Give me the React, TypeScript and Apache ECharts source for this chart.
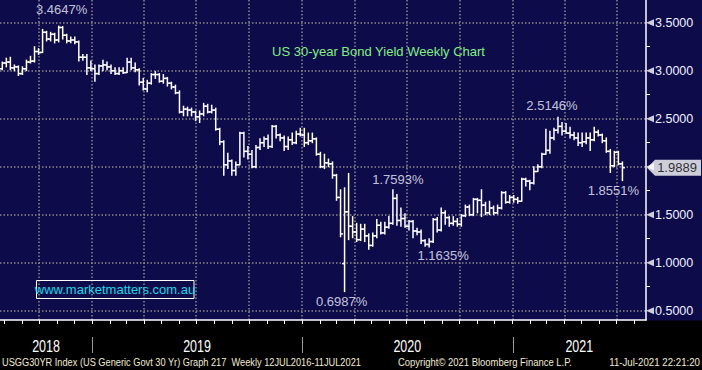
import React, { useEffect, useRef } from 'react';
import * as echarts from 'echarts';

// ---------- data (weekly bars, week ending Sunday) ----------
const FIRST_WEEK_END = '2018-07-29';
const OPEN = [
  3.02, 3.08, 3.09, 3.03, 3.04, 2.97, 3.02, 3.09, 3.10, 3.20,
  3.19, 3.40, 3.33, 3.38, 3.32, 3.45, 3.37, 3.31, 3.32, 3.30,
  3.14, 3.14, 3.03, 3.02, 2.97, 3.05, 3.06, 3.04, 3.00, 2.97,
  3.00, 2.98, 3.09, 3.03, 3.01, 2.88, 2.81, 2.87, 2.96, 2.96,
  2.89, 2.92, 2.87, 2.83, 2.77, 2.57, 2.60, 2.59, 2.57, 2.52,
  2.55, 2.63, 2.57, 2.59, 2.39, 2.26, 2.02, 2.06, 1.96, 2.02,
  2.35, 2.16, 2.13, 2.00, 2.20, 2.25, 2.29, 2.21, 2.42, 2.33,
  2.30, 2.21, 2.28, 2.25, 2.34, 2.33, 2.25, 2.27, 2.29, 2.13,
  2.00, 2.04, 2.03, 1.91, 1.68, 0.99, 1.53, 1.38, 1.32, 1.24,
  1.35, 1.28, 1.18, 1.28, 1.39, 1.31, 1.37, 1.41, 1.67, 1.44,
  1.46, 1.38, 1.43, 1.33, 1.32, 1.23, 1.19, 1.22, 1.45, 1.34,
  1.52, 1.47, 1.41, 1.43, 1.40, 1.49, 1.58, 1.50, 1.66, 1.65,
  1.60, 1.52, 1.57, 1.52, 1.57, 1.73, 1.63, 1.68, 1.66, 1.64,
  1.87, 1.85, 1.83, 1.95, 2.00, 2.13, 2.17, 2.30, 2.38, 2.42,
  2.37, 2.35, 2.33, 2.30, 2.25, 2.26, 2.30, 2.28, 2.36, 2.33,
  2.27, 2.16, 2.01, 2.15, 2.03,
];
const HIGH = [
  3.09, 3.13, 3.14, 3.06, 3.05, 3.04, 3.11, 3.15, 3.25, 3.23,
  3.43, 3.41, 3.40, 3.39, 3.4647, 3.46, 3.38, 3.35, 3.35, 3.31,
  3.17, 3.17, 3.10, 3.06, 3.06, 3.11, 3.09, 3.06, 3.03, 3.03,
  3.03, 3.13, 3.13, 3.08, 3.02, 2.92, 2.90, 2.97, 2.99, 2.97,
  2.96, 2.93, 2.88, 2.85, 2.79, 2.63, 2.62, 2.61, 2.58, 2.58,
  2.66, 2.65, 2.64, 2.61, 2.40, 2.27, 2.14, 2.07, 2.05, 2.36,
  2.36, 2.21, 2.17, 2.22, 2.29, 2.31, 2.33, 2.43, 2.43, 2.34,
  2.32, 2.31, 2.35, 2.37, 2.40, 2.40, 2.35, 2.35, 2.30, 2.15,
  2.13, 2.08, 2.05, 1.92, 1.76, 1.78, 1.93, 1.48, 1.41, 1.40,
  1.40, 1.30, 1.31, 1.45, 1.42, 1.42, 1.48, 1.7593, 1.71, 1.57,
  1.51, 1.44, 1.44, 1.36, 1.34, 1.24, 1.25, 1.46, 1.47, 1.57,
  1.54, 1.48, 1.48, 1.46, 1.50, 1.60, 1.60, 1.67, 1.67, 1.76,
  1.63, 1.64, 1.59, 1.60, 1.74, 1.74, 1.70, 1.70, 1.68, 1.88,
  1.88, 1.86, 2.00, 2.02, 2.14, 2.39, 2.37, 2.40, 2.5146, 2.46,
  2.45, 2.41, 2.36, 2.35, 2.35, 2.35, 2.35, 2.41, 2.38, 2.34,
  2.30, 2.18, 2.16, 2.16, 2.05,
];
const LOW = [
  3.01, 3.04, 3.01, 3.00, 2.95, 2.96, 3.00, 3.08, 3.09, 3.17,
  3.19, 3.31, 3.31, 3.29, 3.30, 3.33, 3.29, 3.29, 3.28, 3.10,
  3.11, 2.96, 3.00, 2.89, 2.96, 3.00, 3.01, 2.97, 2.96, 2.96,
  2.97, 2.98, 3.01, 2.99, 2.85, 2.80, 2.78, 2.86, 2.92, 2.88,
  2.87, 2.84, 2.81, 2.76, 2.56, 2.53, 2.53, 2.53, 2.48, 2.46,
  2.53, 2.56, 2.56, 2.38, 2.23, 1.91, 1.98, 1.91, 1.91, 2.02,
  2.10, 2.08, 1.99, 1.99, 2.18, 2.21, 2.19, 2.20, 2.30, 2.27,
  2.17, 2.18, 2.23, 2.24, 2.32, 2.21, 2.23, 2.25, 2.12, 1.99,
  1.98, 2.00, 1.88, 1.65, 1.27, 0.6987, 1.24, 1.26, 1.22, 1.23,
  1.22, 1.14, 1.17, 1.26, 1.30, 1.30, 1.36, 1.40, 1.39, 1.38,
  1.37, 1.34, 1.26, 1.29, 1.20, 1.17, 1.1635, 1.21, 1.32, 1.33,
  1.40, 1.38, 1.39, 1.38, 1.38, 1.48, 1.49, 1.49, 1.52, 1.48,
  1.50, 1.50, 1.50, 1.51, 1.56, 1.62, 1.62, 1.63, 1.62, 1.64,
  1.80, 1.76, 1.82, 1.95, 1.99, 2.13, 2.14, 2.28, 2.35, 2.33,
  2.35, 2.30, 2.28, 2.22, 2.21, 2.24, 2.17, 2.27, 2.32, 2.25,
  2.15, 1.94, 2.00, 2.02, 1.8551,
];
const CLOSE = [
  3.08, 3.09, 3.03, 3.04, 2.97, 3.02, 3.09, 3.10, 3.20, 3.19,
  3.40, 3.33, 3.38, 3.32, 3.45, 3.37, 3.31, 3.32, 3.30, 3.14,
  3.14, 3.03, 3.02, 2.97, 3.05, 3.06, 3.04, 3.00, 2.97, 3.00,
  2.98, 3.09, 3.03, 3.01, 2.88, 2.81, 2.87, 2.96, 2.96, 2.89,
  2.92, 2.87, 2.83, 2.77, 2.57, 2.60, 2.59, 2.57, 2.52, 2.55,
  2.63, 2.57, 2.59, 2.39, 2.26, 2.02, 2.06, 1.96, 2.02, 2.35,
  2.16, 2.13, 2.00, 2.20, 2.25, 2.29, 2.21, 2.42, 2.33, 2.30,
  2.21, 2.28, 2.25, 2.34, 2.33, 2.25, 2.27, 2.29, 2.13, 2.00,
  2.04, 2.03, 1.91, 1.68, 1.30, 1.53, 1.38, 1.32, 1.24, 1.35,
  1.28, 1.18, 1.28, 1.39, 1.31, 1.37, 1.41, 1.67, 1.44, 1.46,
  1.38, 1.43, 1.33, 1.32, 1.23, 1.19, 1.22, 1.45, 1.34, 1.52,
  1.47, 1.41, 1.43, 1.40, 1.49, 1.58, 1.50, 1.66, 1.65, 1.60,
  1.52, 1.57, 1.52, 1.57, 1.73, 1.63, 1.68, 1.66, 1.64, 1.87,
  1.85, 1.83, 1.95, 2.00, 2.13, 2.17, 2.30, 2.38, 2.42, 2.37,
  2.35, 2.33, 2.30, 2.25, 2.26, 2.30, 2.28, 2.36, 2.33, 2.27,
  2.16, 2.01, 2.15, 2.03, 1.9889,
];

const Y_TICKS = [0.5, 1.0, 1.5, 2.0, 2.5, 3.0, 3.5];
const Y_LABELS = [0.5, 1.0, 1.5, 2.5, 3.0, 3.5]; // 2.0000 is hidden behind the last-value box
const Y_MINOR_TICKS = [0.75, 1.25, 1.75, 2.25, 2.75, 3.25];
const YEAR_LABELS = ['2018', '2019', '2020', '2021'];
// annotated extremes: week index + which field
const ANNOTATED_WEEKS = [14, 138, 97, 85, 106, 154];
const ANNOTATED_FIELDS = ['high', 'high', 'high', 'low', 'low', 'low'];

const TITLE = 'US 30-year Bond Yield Weekly Chart';
const WATERMARK = 'www.marketmatters.com.au';
const FOOTER_LEFT = 'USGG30YR Index (US Generic Govt 30 Yr) Graph 217  Weekly 12JUL2016-11JUL2021';
const FOOTER_MID = 'Copyright\u00A9 2021 Bloomberg Finance L.P.';
const FOOTER_RIGHT = '11-Jul-2021 22:21:20';

// ---------- layout / style ----------
const LABEL_OFFSETS: [number, number][] = [[3, -17], [-6, -12], [5, -10], [-3, 10], [14, 9], [-9, 10]];
const NAVY = '#0e0b4b';
const GRID_COLOR = '#8a8a8a';
const FOOT_COLOR = '#f0ead6';
const FONT = "'Liberation Sans', Arial, sans-serif";
const DAY = 86400000;
const X_MIN = Date.UTC(2018, 6, 25);
const X_MAX = Date.UTC(2021, 7, 21);

function weekTime(i: number) {
  const [y, m, d] = FIRST_WEEK_END.split('-').map(Number);
  return Date.UTC(y, m - 1, d) + i * 7 * DAY;
}

function monthStarts(step: number) {
  const out: number[] = [];
  for (let y = 2018; y <= 2021; y++) {
    for (let m = 0; m < 12; m += step) {
      const t = Date.UTC(y, m, 1);
      if (t > X_MIN && t < X_MAX) out.push(t);
    }
  }
  return out;
}

export default function App() {
  const ref = useRef<HTMLDivElement>(null);

  useEffect(() => {
    if (!ref.current) return;
    const chart = echarts.init(ref.current, undefined, { renderer: 'svg' });

    const barData = OPEN.map((o, i) => [weekTime(i), o, HIGH[i], LOW[i], CLOSE[i]]);
    const monthly = monthStarts(1);
    const quarterly = monthStarts(3);

    const annData = ANNOTATED_WEEKS.map((w, k) => {
      const v = ANNOTATED_FIELDS[k] === 'high' ? HIGH[w] : LOW[w];
      return {
        value: [weekTime(w), v],
        label: { offset: LABEL_OFFSETS[k] },
      };
    });

    const last = CLOSE[CLOSE.length - 1];

    const option: any = {
      animation: false,
      backgroundColor: NAVY,
      title: {
        text: TITLE,
        left: 272,
        top: 45,
        padding: 0,
        textStyle: { color: '#80f080', fontSize: 13, fontWeight: 'normal', fontFamily: FONT },
      },
      grid: { left: 0, right: 56, top: 0, bottom: 50, containLabel: false },
      xAxis: [
        {
          type: 'value', min: X_MIN, max: X_MAX, position: 'bottom',
          axisLine: { show: true, lineStyle: { color: '#ffffff', width: 1.5 } },
          axisTick: { show: true, customValues: monthly, length: 4, lineStyle: { color: '#ffffff', width: 1 } },
          axisLabel: { show: false },
          splitLine: { show: false },
        },
        {
          type: 'value', min: X_MIN, max: X_MAX, position: 'bottom',
          axisLine: { show: false },
          axisTick: { show: false, customValues: quarterly },
          axisLabel: { show: false },
          splitLine: { show: true, lineStyle: { color: GRID_COLOR, width: 1.5, type: [1.5, 2] } },
        },
      ],
      yAxis: [
        {
          type: 'value', min: 0.403, max: 3.7365, position: 'right',
          axisLine: { show: true, lineStyle: { color: '#ffffff', width: 1.5 } },
          axisTick: { show: false, customValues: Y_TICKS },
          axisLabel: {
            show: true, customValues: Y_LABELS, margin: 9,
            formatter: (v: number) => v.toFixed(4),
            color: '#eef2ff', fontSize: 12.5, fontFamily: FONT,
          },
          splitLine: { show: true, lineStyle: { color: GRID_COLOR, width: 1.5, type: [1.5, 2] } },
        },
        {
          type: 'value', min: 0.403, max: 3.7365, position: 'right',
          axisLine: { show: false },
          axisTick: { show: true, customValues: Y_MINOR_TICKS, length: 4, lineStyle: { color: '#ffffff', width: 1 } },
          axisLabel: { show: false },
          splitLine: { show: false },
        },
      ],
      series: [
        {
          name: 'USGG30YR',
          type: 'custom',
          xAxisIndex: 0, yAxisIndex: 0,
          dimensions: ['time', 'open', 'high', 'low', 'close'],
          encode: { x: 0, y: [1, 2, 3, 4] },
          data: barData,
          renderItem: (_params: any, api: any) => {
            const t = api.value(0);
            const pO = api.coord([t, api.value(1)]);
            const pH = api.coord([t, api.value(2)]);
            const pL = api.coord([t, api.value(3)]);
            const pC = api.coord([t, api.value(4)]);
            const x = pH[0];
            const style = { stroke: '#ffffff', lineWidth: 1.5 };
            return {
              type: 'group',
              children: [
                { type: 'line', shape: { x1: x, y1: pH[1] - 0.5, x2: x, y2: pL[1] + 0.5 }, style },
                { type: 'line', shape: { x1: x - 2.5, y1: pO[1], x2: x, y2: pO[1] }, style },
                { type: 'line', shape: { x1: x, y1: pC[1], x2: x + 2.5, y2: pC[1] }, style },
              ],
            };
          },
        },
        {
          name: 'extremes',
          type: 'scatter',
          xAxisIndex: 0, yAxisIndex: 0,
          symbolSize: 0.1,
          itemStyle: { color: 'rgba(0,0,0,0)' },
          clip: false,
          silent: true,
          label: {
            show: true, position: 'inside',
            formatter: (p: any) => p.value[1].toFixed(4) + '%',
            color: '#f0f4ff', fontSize: 13, fontFamily: FONT,
          },
          data: annData,
        },
        {
          name: 'tickMarks',
          type: 'scatter',
          xAxisIndex: 0, yAxisIndex: 0,
          symbol: 'triangle',
          symbolSize: [7, 8],
          symbolRotate: 90,
          symbolOffset: [4, 0],
          itemStyle: { color: '#ffffff' },
          clip: false,
          silent: true,
          data: Y_TICKS.map((v) => [X_MAX, v]),
        },
        {
          name: 'last',
          type: 'scatter',
          xAxisIndex: 0, yAxisIndex: 0,
          symbol: 'path://M0,8 L8,0 L54,0 L54,16 L8,16 Z',
          symbolSize: [54, 16],
          symbolOffset: [28, 0],
          symbolKeepAspect: false,
          itemStyle: { color: '#ffffff' },
          clip: false,
          silent: true,
          z: 5,
          label: {
            show: true, position: 'inside', offset: [3, 0],
            formatter: (p: any) => p.value[1].toFixed(4),
            color: '#000000', fontSize: 13, fontFamily: FONT,
          },
          data: [[X_MAX, last]],
        },
      ],
    };

    chart.setOption(option);

    // year band: labels centred in the visible part of each year, separators at year starts
    const px = (t: number) => chart.convertToPixel({ xAxisIndex: 0 }, t) as number;
    const yearGraphics: any[] = [];
    YEAR_LABELS.forEach((y, k) => {
      const a = Math.max(X_MIN, Date.UTC(Number(y), 0, 1));
      const b = Math.min(X_MAX, Date.UTC(Number(y) + 1, 0, 1));
      const cx = (px(a) + px(b)) / 2;
      yearGraphics.push({
        type: 'text', x: cx, y: 346, scaleX: 0.78,
        style: { text: y, fill: '#ffffff', fontSize: 16, fontFamily: FONT, align: 'center', verticalAlign: 'middle' },
      });
      if (k > 0) {
        const sx = Math.round(px(Date.UTC(Number(y), 0, 1))) + 0.5;
        yearGraphics.push({
          type: 'line',
          shape: { x1: sx, y1: 337, x2: sx, y2: 353 },
          style: { stroke: '#9a9a9a', lineWidth: 1 },
        });
      }
    });

    chart.setOption({
      graphic: [
        {
          type: 'rect', z: -1,
          shape: { x: 0, y: 320.5, width: 702, height: 50 },
          style: { fill: '#000000' },
        },
        {
          type: 'rect',
          shape: { x: 36.5, y: 280.5, width: 157.5, height: 18 },
          style: { fill: 'none', stroke: '#ffffff', lineWidth: 1 },
        },
        {
          type: 'text', x: 115, y: 289.5,
          style: { text: WATERMARK, fill: '#1ad8e6', fontSize: 13, fontFamily: FONT, align: 'center', verticalAlign: 'middle' },
        },
        {
          type: 'text', x: 2, y: 362, scaleX: 0.84,
          style: { text: FOOTER_LEFT, fill: FOOT_COLOR, fontSize: 11, fontFamily: FONT, align: 'left', verticalAlign: 'middle' },
        },
        {
          type: 'text', x: 398, y: 362, scaleX: 0.86,
          style: { text: FOOTER_MID, fill: FOOT_COLOR, fontSize: 11, fontFamily: FONT, align: 'left', verticalAlign: 'middle' },
        },
        {
          type: 'text', x: 700, y: 362, scaleX: 0.88,
          style: { text: FOOTER_RIGHT, fill: FOOT_COLOR, fontSize: 11, fontFamily: FONT, align: 'right', verticalAlign: 'middle' },
        },
        ...yearGraphics,
      ],
    });

    return () => chart.dispose();
  }, []);

  return (
    <div
      ref={ref}
      style={{ position: 'fixed', left: 0, top: 0, width: 702, height: 370 }}
    />
  );
}
